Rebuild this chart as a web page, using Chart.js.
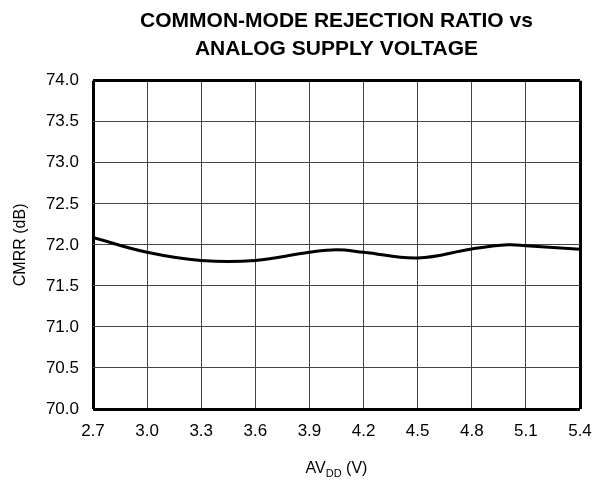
<!DOCTYPE html>
<html lang="en">
<head>
  <meta charset="utf-8" />
  <title>CMRR vs Analog Supply Voltage</title>
  <script src="https://cdn.jsdelivr.net/npm/chart.js@4.4.0/dist/chart.umd.min.js"></script>
  <style>
    html, body { margin: 0; padding: 0; background: #fff; }
    #wrap { width: 593px; height: 481px; }
  </style>
</head>
<body>
  <div id="wrap"><canvas id="chart"></canvas></div>

  <script>
    // supply voltage (V) and CMRR (dB)
    const supplyVolts = [2.7, 3.0, 3.3, 3.6, 3.9, 4.05, 4.2, 4.5, 4.8, 5.0, 5.1, 5.4];
    const cmrrDb = [72.09, 71.91, 71.81, 71.81, 71.91, 71.94, 71.91, 71.84, 71.95, 72.0, 71.99, 71.945];
    const xTicks = [2.7, 3.0, 3.3, 3.6, 3.9, 4.2, 4.5, 4.8, 5.1, 5.4];
    const yTicks = [70.0, 70.5, 71.0, 71.5, 72.0, 72.5, 73.0, 73.5, 74.0];

    const FONT = "'Liberation Sans', Arial, sans-serif";

    // x axis title with subscript DD
    const xTitlePlugin = {
      id: "xTitle",
      afterDraw(chart) {
        const ctx = chart.ctx;
        const area = chart.chartArea;
        const big = "16px " + FONT;
        const small = "11px " + FONT;
        ctx.save();
        ctx.fillStyle = "#000";
        ctx.textBaseline = "alphabetic";
        ctx.font = big;
        const w1 = ctx.measureText("AV").width;
        const w3 = ctx.measureText(" (V)").width;
        ctx.font = small;
        const w2 = ctx.measureText("DD").width;
        let x = (area.left + area.right) / 2 - (w1 + w2 + w3) / 2;
        const y = 473;
        ctx.font = big;
        ctx.fillText("AV", x, y);
        x += w1;
        ctx.font = small;
        ctx.fillText("DD", x, y + 4);
        x += w2;
        ctx.font = big;
        ctx.fillText(" (V)", x, y);
        ctx.restore();
      }
    };

    const edgeWidth = (c, n) => (c.index === 0 || c.index === n - 1) ? 3 : 1;
    const edgeColor = (c, n) => (c.index === 0 || c.index === n - 1) ? "#000" : "#444";

    new Chart(document.getElementById("chart"), {
      type: "line",
      data: {
        datasets: [{
          data: supplyVolts.map((v, i) => ({ x: v, y: cmrrDb[i] })),
          borderColor: "#000",
          borderWidth: 3,
          pointRadius: 0,
          tension: 0.4,
          fill: false
        }]
      },
      plugins: [xTitlePlugin],
      options: {
        responsive: true,
        maintainAspectRatio: false,
        animation: false,
        layout: { padding: { left: 0, right: 13, top: 1, bottom: 0 } },
        plugins: {
          legend: { display: false },
          tooltip: { enabled: false },
          title: {
            display: true,
            fullSize: false,
            text: ["COMMON-MODE REJECTION RATIO vs", "ANALOG SUPPLY VOLTAGE"],
            color: "#000",
            font: { family: FONT, size: 21, weight: "bold", lineHeight: 1.35 },
            padding: { top: 6, bottom: 17 }
          }
        },
        scales: {
          x: {
            type: "linear",
            min: 2.7,
            max: 5.4,
            afterBuildTicks: (s) => { s.ticks = xTicks.map(v => ({ value: v })); },
            afterFit: (s) => { s.height = 72; s.paddingRight = 0; s.paddingLeft = 0; },
            border: { display: false },
            grid: {
              drawTicks: false,
              lineWidth: (c) => edgeWidth(c, xTicks.length),
              color: (c) => edgeColor(c, xTicks.length)
            },
            ticks: {
              color: "#000",
              padding: 12,
              maxRotation: 0,
              font: { family: FONT, size: 17 },
              callback: (v) => Number(v).toFixed(1)
            }
          },
          y: {
            min: 70,
            max: 74,
            afterBuildTicks: (s) => { s.ticks = yTicks.map(v => ({ value: v })); },
            afterFit: (s) => { s.width = 93; },
            border: { display: false },
            grid: {
              drawTicks: false,
              lineWidth: (c) => edgeWidth(c, yTicks.length),
              color: (c) => edgeColor(c, yTicks.length)
            },
            ticks: {
              color: "#000",
              padding: 14,
              font: { family: FONT, size: 17 },
              callback: (v) => Number(v).toFixed(1)
            },
            title: {
              display: true,
              text: "CMRR (dB)",
              color: "#000",
              font: { family: FONT, size: 16 },
              padding: { top: 11, bottom: 0 }
            }
          }
        }
      }
    });
  </script>
</body>
</html>
